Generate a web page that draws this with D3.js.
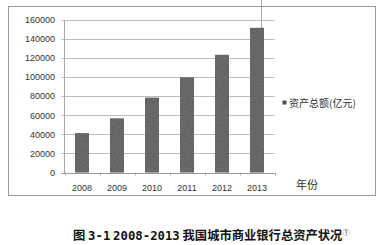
<!DOCTYPE html>
<html><head><meta charset="utf-8">
<script src="https://cdn.jsdelivr.net/npm/d3@7"></script>
<style>
html,body{margin:0;padding:0;background:#fff;}
svg{display:block;}
</style>
</head><body>
<svg id="c" width="385" height="245"></svg>
<script>
const years = ["2008","2009","2010","2011","2012","2013"];
const assets = [41320, 56800, 78526, 99845, 123469, 151778];
const yTicks = [0,20000,40000,60000,80000,100000,120000,140000,160000];
const seriesName = "资产总额(亿元)";
const xTitle = "年份";
const caption = "图 3-1 2008-2013 我国城市商业银行总资产状况";

const svg = d3.select("#c");
const L = 64.5, R = 274.5, T = 20, B = 172.5;
const x = d3.scaleBand().domain(years).range([L, R]).padding(0);
const y = d3.scaleLinear().domain([0,160000]).range([B, T]);

// subtle texture for bars (scan look)
const defs = svg.append("defs");
const f = defs.append("filter").attr("id","grain").attr("x",0).attr("y",0).attr("width",1).attr("height",1);
f.append("feTurbulence").attr("type","fractalNoise").attr("baseFrequency",1.2).attr("numOctaves",1).attr("seed",3).attr("result","n");
f.append("feColorMatrix").attr("in","n").attr("type","matrix")
  .attr("values","0 0 0 0 0.25  0 0 0 0 0.25  0 0 0 0 0.25  0 0 0 0.6 0").attr("result","g");
f.append("feComposite").attr("in","g").attr("in2","SourceGraphic").attr("operator","in").attr("result","gi");
f.append("feMerge").call(m=>{m.append("feMergeNode").attr("in","SourceGraphic");m.append("feMergeNode").attr("in","gi");});

// frame
svg.append("rect").attr("x",8.5).attr("y",6.5).attr("width",367).attr("height",189)
  .attr("fill","none").attr("stroke","#9a9a9a").attr("stroke-width",1);

// gridlines
svg.append("g").selectAll("line").data(yTicks).join("line")
  .attr("x1",L-3).attr("x2",R).attr("y1",d=>Math.round(y(d))+0.5).attr("y2",d=>Math.round(y(d))+0.5)
  .attr("stroke",d=>d===0?"#999":"#bdbdbd").attr("stroke-width",1);

// y axis line
svg.append("line").attr("x1",L).attr("x2",L).attr("y1",T).attr("y2",B+0.5).attr("stroke","#aaa");

// y tick labels
svg.append("g").selectAll("text").data(yTicks).join("text")
  .attr("x",55).attr("y",d=>y(d)+3.2).attr("text-anchor","end")
  .attr("font-family","Liberation Sans, Arial, sans-serif").attr("font-size",9).attr("fill","#333")
  .text(d=>d);

// x ticks
const bounds = years.map(d=>x(d)).concat([R]);
svg.append("g").selectAll("line").data(bounds).join("line")
  .attr("x1",d=>Math.round(d)+0.5).attr("x2",d=>Math.round(d)+0.5).attr("y1",B).attr("y2",B+3)
  .attr("stroke","#aaa");

// bars
const bw = x.bandwidth()*0.4;
svg.append("g").selectAll("rect").data(years).join("rect")
  .attr("x",(d)=>x(d)+x.bandwidth()/2-bw/2)
  .attr("y",(d,i)=>y(assets[i]))
  .attr("width",bw)
  .attr("height",(d,i)=>B-y(assets[i]))
  .attr("fill","#555")
  .attr("filter","url(#grain)");

// x labels
svg.append("g").selectAll("text").data(years).join("text")
  .attr("x",d=>x(d)+x.bandwidth()/2).attr("y",191).attr("text-anchor","middle")
  .attr("font-family","Liberation Sans, Arial, sans-serif").attr("font-size",9).attr("fill","#333")
  .text(d=>d);

// x title
svg.append("text").attr("x",296).attr("y",189)
  .attr("font-family","Noto Sans CJK SC").attr("font-size",11).attr("fill","#333").text(xTitle);

// legend
svg.append("rect").attr("x",282.5).attr("y",100.5).attr("width",4).attr("height",4).attr("fill","#4f4f4f");
svg.append("text").attr("x",289).attr("y",106.5)
  .attr("font-family","Noto Sans CJK SC").attr("font-size",10).attr("fill","#333").text(seriesName);

// scan artifact line
svg.append("line").attr("x1",261.5).attr("x2",261.5).attr("y1",0).attr("y2",28).attr("stroke","#aaa");

// caption: digits/hyphens in monospace, the rest in CJK font
const runs = caption.match(/[0-9\-]+|[^0-9\-]+/g);
const cap = svg.append("text").attr("x",73).attr("y",239.5)
  .attr("font-family","Noto Sans CJK SC").attr("font-weight","bold").attr("font-size",12.3).attr("fill","#111");
cap.selectAll("tspan.r").data(runs).join("tspan").attr("class","r")
  .attr("font-family",d=>/^[0-9\-]+$/.test(d)?"DejaVu Sans Mono":"Noto Sans CJK SC")
  .style("white-space","pre")
  .text(d=>d);
cap.append("tspan").attr("font-size",7).attr("dy",-5).attr("font-weight","normal").text("①");
</script>
</body></html>
